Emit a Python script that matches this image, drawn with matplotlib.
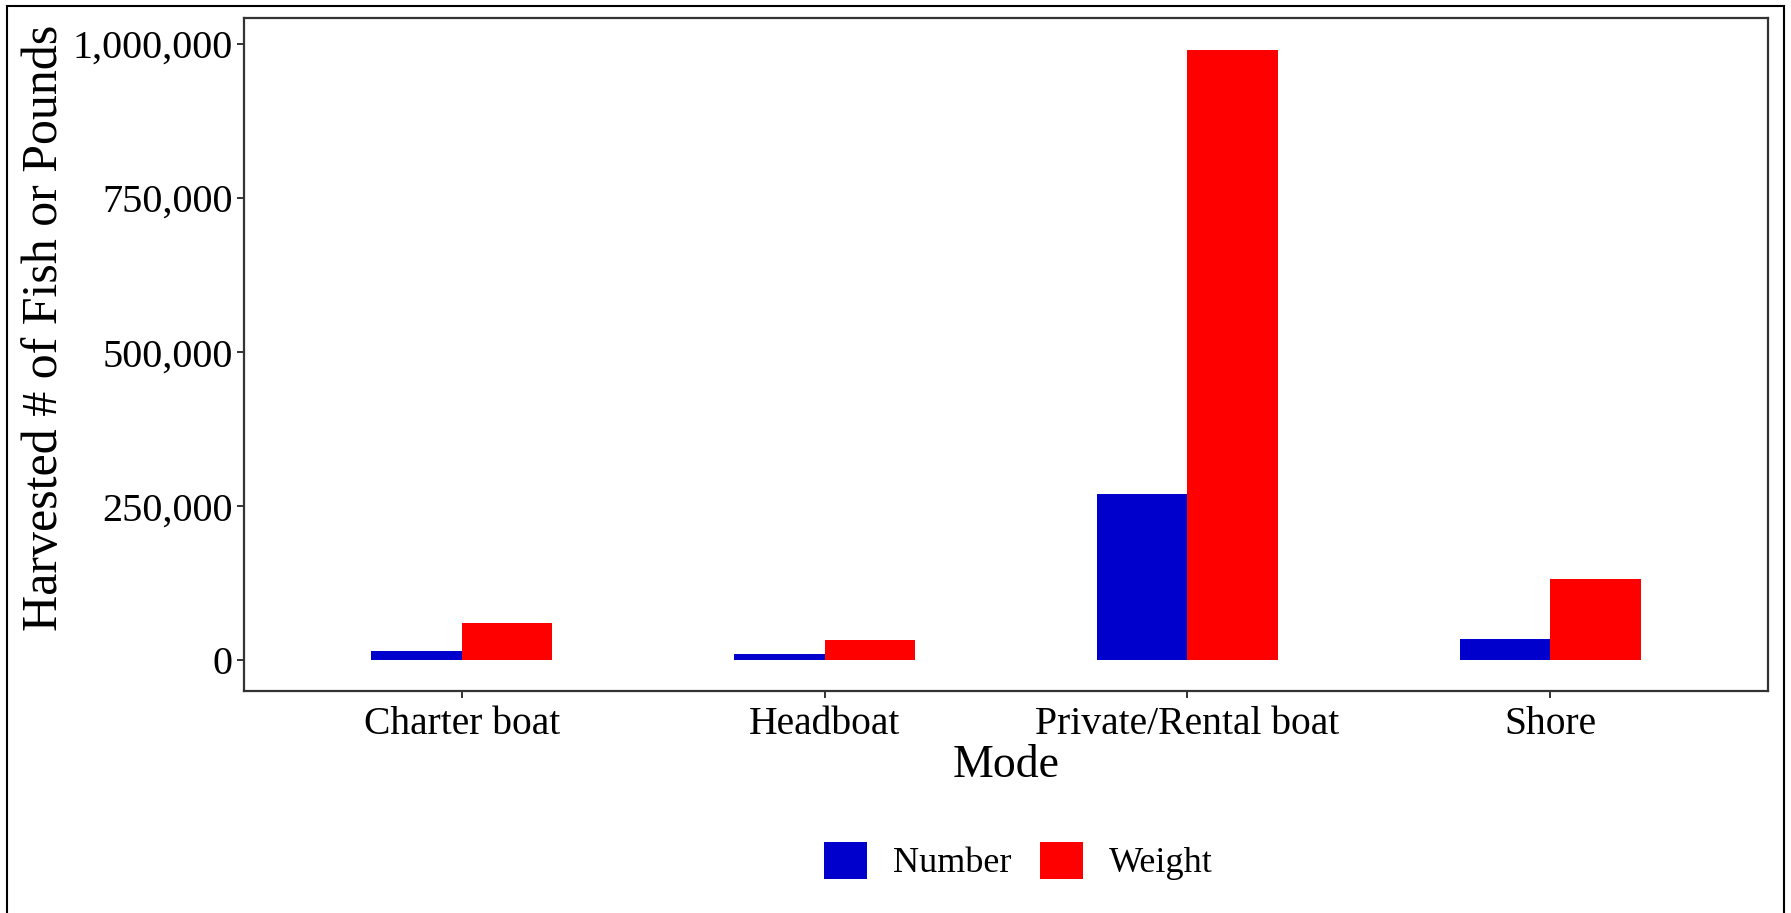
import matplotlib
matplotlib.use("Agg")
import matplotlib.pyplot as plt
import numpy as np
from matplotlib.patches import Patch, Rectangle
from matplotlib.ticker import FuncFormatter

categories = ["Charter boat", "Headboat", "Private/Rental boat", "Shore"]
number_vals = [16000, 9700, 269500, 34800]
weight_vals = [61000, 34000, 990000, 132000]
series_names = ["Number", "Weight"]
colors = ["#0000CD", "#FF0000"]
yticks = [0, 250000, 500000, 750000, 1000000]

plt.rcParams['font.family'] = ['Liberation Serif', 'DejaVu Serif']

W, H = 1791, 913
fig = plt.figure(figsize=(W/100, H/100), dpi=100)

left, right, top, bottom = 244, 1768, 18, 691
aw, ah = right-left, bottom-top
ax = fig.add_axes([left/W, 1-bottom/H, aw/W, ah/H])

x = np.arange(1, len(categories)+1)
bw = 0.25
ax.bar(x - bw/2, number_vals, width=bw, color=colors[0], label=series_names[0])
ax.bar(x + bw/2, weight_vals, width=bw, color=colors[1], label=series_names[1])

ax.set_xlim(0.4, 4.6)
ax.set_ylim(-49500, 1042000)
ax.set_xticks(x)
ax.set_xticklabels(categories)
ax.set_yticks(yticks)
ax.yaxis.set_major_formatter(FuncFormatter(lambda v, p: f"{int(v):,}"))

for s in ax.spines.values():
    s.set_color("#333333")
    s.set_linewidth(1.6)
ax.tick_params(axis='both', length=5, width=1.4, color="#333333", labelcolor="black")
ax.tick_params(axis='y', labelsize=29, pad=3)
ax.tick_params(axis='x', labelsize=28.5, pad=5.5)

ax.set_xlabel("Mode", fontsize=33)
ax.xaxis.label.set_verticalalignment('baseline')
ax.xaxis.set_label_coords(0.5, (bottom-777)/ah)

ax.set_ylabel("Harvested # of Fish or Pounds", fontsize=36)
ax.yaxis.label.set_verticalalignment('baseline')
ax.yaxis.set_label_coords((57-left)/aw, (bottom-327.5)/ah)

handles = [Patch(facecolor=c, edgecolor='none') for c in colors]
fs_leg = 26
hl = 43/(fs_leg*100/72)
leg = fig.legend(handles, series_names, loc='center', bbox_to_anchor=(1018.5/W, 1-861/H),
                 ncol=2, frameon=False, fontsize=fs_leg, handlelength=hl, handleheight=hl,
                 handletextpad=0.72, columnspacing=0.78)

# outer border
fig.add_artist(Rectangle((7/W, -0.05), (1784-7)/W, 1.05 - 6/H, transform=fig.transFigure,
                         fill=False, edgecolor='black', linewidth=1.5))

fig.savefig("out.png", dpi=100)
